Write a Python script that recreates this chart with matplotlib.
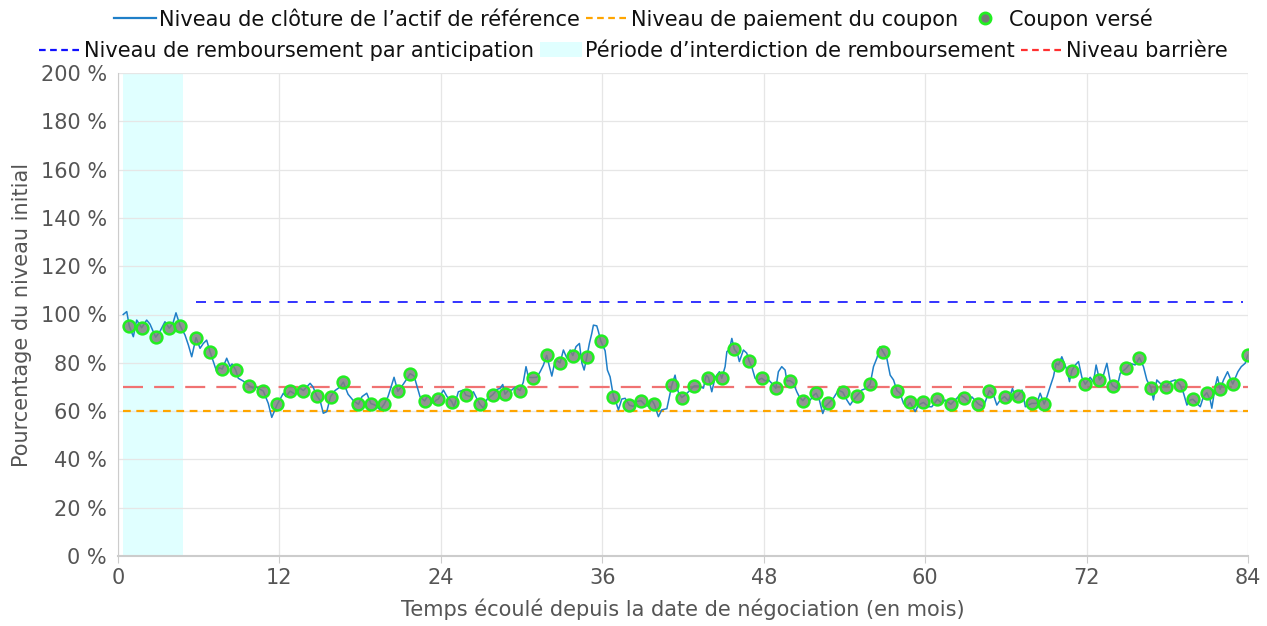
import matplotlib
matplotlib.use("Agg")
import matplotlib.pyplot as plt
from matplotlib.lines import Line2D
from matplotlib.patches import Patch
import numpy as np

# ---------------- data ----------------
coupon_months = [0.84, 1.76, 2.80, 3.81, 4.63, 5.80, 6.84, 7.75, 8.75, 9.76,
                 10.80, 11.84, 12.79, 13.78, 14.77, 15.80, 16.75, 17.87, 18.80, 19.78,
                 20.80, 21.72, 22.79, 23.81, 24.81, 25.85, 26.91, 27.86, 28.77, 29.89,
                 30.83, 31.87, 32.86, 33.81, 34.85, 35.89, 36.83, 38.02, 38.88, 39.87,
                 41.17, 41.91, 42.83, 43.89, 44.88, 45.82, 46.91, 47.86, 48.90, 49.96,
                 50.91, 51.90, 52.81, 53.88, 54.92, 55.91, 56.90, 57.90, 58.88, 59.87,
                 60.91, 61.91, 62.92, 63.96, 64.78, 65.90, 66.90, 67.93, 68.85, 69.91,
                 70.90, 71.90, 72.96, 73.93, 74.94, 75.93, 76.78, 77.92, 78.96, 79.90,
                 80.94, 81.93, 82.87, 83.99]
coupon_values = [95.2, 94.5, 90.6, 94.3, 95.2, 90.4, 84.6, 77.4, 77.0, 70.5,
                 68.3, 62.8, 68.3, 68.5, 66.3, 66.0, 72.0, 62.8, 63.1, 62.8,
                 68.2, 75.5, 64.2, 65.0, 63.9, 66.7, 62.8, 66.8, 67.0, 68.5,
                 73.9, 83.1, 79.9, 83.0, 82.3, 89.0, 66.0, 62.4, 64.3, 62.8,
                 70.7, 65.6, 70.4, 73.9, 73.6, 85.6, 80.9, 73.6, 69.4, 72.6,
                 64.3, 67.4, 63.2, 67.8, 66.3, 71.1, 84.3, 68.5, 63.6, 63.6,
                 64.9, 62.8, 65.6, 62.9, 68.5, 66.0, 66.4, 63.2, 62.9, 79.1,
                 76.7, 71.1, 72.9, 70.5, 77.7, 82.1, 69.7, 70.1, 70.8, 64.9,
                 67.6, 69.0, 71.2, 83.2]

path_months = [0.39, 0.65, 1.14, 1.39, 2.13, 2.38, 3.12, 3.49, 4.09, 4.31,
               4.98, 5.23, 5.48, 6.10, 6.34, 6.59, 7.09, 7.34, 7.51, 8.08,
               8.33, 8.48, 8.94, 9.29, 10.04, 10.26, 11.17, 11.43, 12.29, 12.49,
               13.16, 13.53, 14.28, 14.50, 15.02, 15.26, 15.52, 16.13, 16.51, 17.10,
               17.47, 18.14, 18.49, 19.11, 19.48, 20.07, 20.30, 20.52, 21.19, 21.49,
               22.01, 22.45, 23.05, 23.44, 23.64, 24.19, 24.46, 24.98, 25.30, 25.67,
               26.17, 26.42, 26.69, 27.16, 27.44, 28.18, 28.40, 28.60, 29.00, 29.27,
               29.52, 30.13, 30.33, 30.51, 31.13, 31.38, 31.62, 32.07, 32.25, 32.42,
               32.62, 33.11, 33.36, 33.61, 34.05, 34.30, 34.48, 34.65, 35.04, 35.22,
               35.34, 35.59, 35.71, 36.21, 36.38, 36.58, 37.03, 37.20, 37.45, 37.70,
               38.31, 38.57, 39.18, 39.43, 39.68, 40.17, 40.42, 40.80, 41.41, 41.64,
               42.23, 42.53, 43.14, 43.52, 43.72, 44.14, 44.39, 44.71, 45.13, 45.26,
               45.45, 45.63, 46.04, 46.19, 46.49, 46.74, 47.11, 47.36, 47.61, 48.10,
               48.35, 48.60, 49.09, 49.34, 49.59, 49.72, 50.21, 50.46, 50.65, 51.15,
               51.45, 51.70, 52.14, 52.39, 52.57, 53.18, 53.55, 54.18, 54.42, 54.67,
               55.29, 55.66, 56.16, 56.41, 56.65, 57.15, 57.40, 57.65, 58.14, 58.39,
               58.64, 59.26, 59.50, 60.24, 60.50, 61.24, 61.49, 62.23, 62.60, 63.22,
               63.47, 64.33, 65.08, 65.33, 65.58, 66.20, 66.49, 66.70, 67.20, 67.45,
               68.30, 68.55, 69.05, 69.29, 69.54, 69.74, 70.16, 70.54, 70.73, 71.15,
               71.40, 71.65, 72.27, 72.51, 72.71, 73.26, 73.51, 73.75, 74.25, 74.50,
               75.24, 75.61, 76.23, 76.48, 76.97, 77.22, 77.47, 78.22, 78.59, 79.21,
               79.46, 79.70, 80.20, 80.45, 80.69, 81.19, 81.31, 81.56, 81.73, 82.18,
               82.48, 82.73, 83.25, 83.50, 83.79]
path_values = [100.0, 101.2, 90.8, 97.7, 97.7, 96.0, 93.0, 97.0, 96.5, 100.7,
               91.5, 87.4, 82.5, 86.0, 88.0, 89.4, 80.5, 76.3, 78.0, 81.9,
               78.5, 79.5, 73.6, 72.5, 69.5, 70.0, 63.2, 57.4, 67.4, 66.0,
               67.0, 69.5, 71.5, 70.0, 64.5, 59.1, 59.8, 68.5, 70.0, 67.0,
               64.5, 66.0, 67.4, 62.5, 60.5, 66.0, 70.0, 74.0, 71.0, 73.5,
               74.5, 66.0, 66.5, 63.2, 64.5, 68.7, 66.0, 61.8, 68.0, 68.7,
               66.0, 68.0, 65.0, 61.2, 65.0, 69.0, 69.4, 71.0, 68.5, 68.7,
               69.9, 72.0, 78.4, 74.0, 74.0, 76.3, 79.0, 78.4, 74.5, 79.0,
               81.0, 85.3, 82.0, 85.3, 86.7, 88.0, 80.0, 77.0, 88.0, 92.2,
               95.6, 95.3, 93.0, 85.0, 77.0, 74.2, 63.5, 60.5, 65.0, 65.3,
               62.0, 64.0, 62.5, 62.0, 64.6, 57.7, 60.5, 61.0, 74.9, 68.0,
               67.0, 68.7, 70.4, 69.5, 74.9, 68.0, 74.0, 76.3, 78.4, 84.6,
               85.5, 90.1, 84.0, 80.5, 85.3, 84.0, 78.4, 73.6, 72.9, 72.5,
               73.0, 71.5, 76.3, 78.4, 77.0, 72.5, 71.5, 68.0, 65.9, 66.0,
               64.5, 66.5, 64.5, 59.0, 61.8, 65.3, 68.7, 64.6, 62.5, 64.6,
               68.7, 69.5, 78.4, 81.9, 86.7, 81.9, 74.9, 72.9, 67.4, 63.2,
               61.8, 59.8, 62.5, 61.8, 61.8, 63.2, 64.6, 64.6, 66.7, 63.9,
               65.9, 61.8, 66.7, 62.5, 64.6, 64.2, 69.4, 65.3, 68.7, 61.8,
               63.2, 67.4, 65.9, 70.1, 74.3, 79.8, 82.5, 77.0, 72.2, 79.0,
               80.5, 74.0, 74.0, 72.0, 79.1, 75.0, 79.8, 72.5, 69.4, 75.6,
               79.8, 79.1, 78.4, 72.9, 64.6, 72.9, 71.5, 72.2, 72.9, 67.4,
               62.5, 64.6, 63.2, 61.8, 66.0, 64.6, 61.2, 70.1, 74.2, 72.9,
               76.3, 72.9, 76.3, 78.4, 79.8]

coupon_level = 60
barrier_level = 70
autocall_level = 105
start_month = 0.39
end_month = 84
lockout_start, lockout_end = 0.39, 4.81
autocall_start, autocall_end = 5.80, 83.6
x_ticks = [0, 12, 24, 36, 48, 60, 72, 84]
y_ticks = list(range(0, 201, 20))

labels = {
    "close": "Niveau de clôture de l\u2019actif de référence",
    "coupon": "Niveau de paiement du coupon",
    "paid": "Coupon versé",
    "autocall": "Niveau de remboursement par anticipation",
    "lockout": "Période d\u2019interdiction de remboursement",
    "barrier": "Niveau barrière",
}

# merge path + observation points into one closing series
line_m = np.array(path_months + coupon_months)
line_v = np.array(path_values + coupon_values)
order = np.argsort(line_m)
line_m, line_v = line_m[order], line_v[order]

# ---------------- figure ----------------
plt.rcParams['font.family'] = ['DejaVu Sans']
FS = 15
fig = plt.figure(figsize=(12.67, 6.26), dpi=100)
ax = fig.add_axes([118/1267, 70/626, 1130/1267, 483/626])

txt_col = '#555555'
ax.axvspan(lockout_start, lockout_end, color='#e0ffff', zorder=0, lw=0)
ax.plot(line_m, line_v, color='#1f7fc8', lw=1.1, zorder=3)
ax.plot([start_month, end_month], [coupon_level]*2, color='#ffa500', lw=1.6,
        dashes=(3.5, 2.5), zorder=2)
ax.plot([start_month, end_month], [barrier_level]*2, color='#f07272', lw=1.6,
        dashes=(9, 5), zorder=2)
ax.plot([autocall_start, autocall_end], [autocall_level]*2, color='#1010ff', lw=1.2,
        dashes=(6, 5), zorder=2)
ax.plot(coupon_months, coupon_values, ls='none', marker='o', ms=8.5,
        mfc=(0.5, 0.5, 0.5, 0.85), mec='#22ee22', mew=1.8, zorder=4)

ax.set_xlim(0, 84)
ax.set_ylim(0, 200)
ax.set_xticks(x_ticks)
ax.set_yticks(y_ticks)
ax.set_yticklabels([f"{v} %" for v in y_ticks])
ax.grid(True, color='#e6e6e6', lw=0.9, zorder=0)
ax.set_axisbelow(True)
for s in ['top', 'right']:
    ax.spines[s].set_visible(False)
ax.spines['left'].set_color('#cccccc')
ax.spines['bottom'].set_color('#cccccc')
ax.spines['bottom'].set_linewidth(1.5)
ax.tick_params(axis='both', colors='#cccccc', labelcolor=txt_col, labelsize=FS,
               length=5)
ax.tick_params(axis='y', length=0, pad=8)
ax.set_xlabel("Temps écoulé depuis la date de négociation (en mois)",
              fontsize=FS, color=txt_col, labelpad=8)
ax.set_ylabel("Pourcentage du niveau initial", fontsize=FS, color=txt_col,
              labelpad=6)

h_close = Line2D([], [], color='#1f7fc8', lw=1.6)
h_coupon = Line2D([], [], color='#ffa500', lw=1.6, dashes=(3, 2))
h_paid = Line2D([], [], ls='none', marker='o', ms=8, mfc='#777777',
                mec='#22ee22', mew=2)
h_auto = Line2D([], [], color='#1010ff', lw=1.6, dashes=(3, 2))
h_lock = Patch(facecolor='#e0ffff', edgecolor='none')
h_bar = Line2D([], [], color='#ff3030', lw=1.6, dashes=(3, 2))

common = dict(frameon=False, fontsize=FS, handlelength=2.0, handletextpad=0.15,
              columnspacing=0.3, ncol=3, loc='center', borderpad=0)
leg1 = fig.legend([h_close, h_coupon, h_paid],
                  [labels["close"], labels["coupon"], labels["paid"]],
                  bbox_to_anchor=(0.5, 1 - 19/626), **common)
leg2 = fig.legend([h_auto, h_lock, h_bar],
                  [labels["autocall"], labels["lockout"], labels["barrier"]],
                  bbox_to_anchor=(0.5, 1 - 51/626), **common)
for lg in (leg1, leg2):
    for t in lg.get_texts():
        t.set_color('#111111')

fig.savefig("out.png", dpi=100)
